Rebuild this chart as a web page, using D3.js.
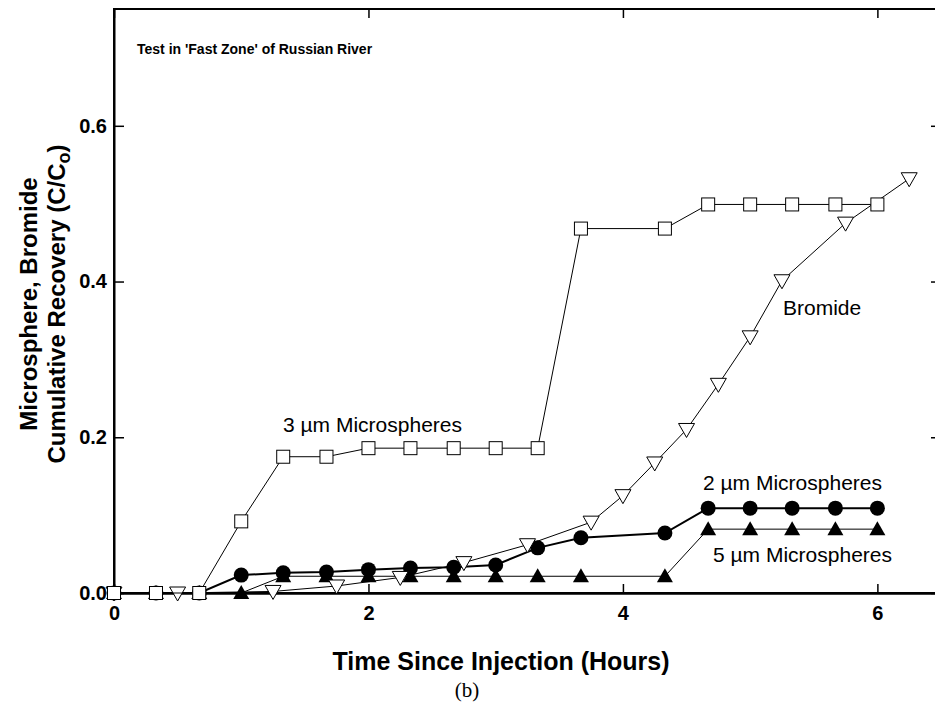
<!DOCTYPE html>
<html>
<head>
<meta charset="utf-8">
<script src="https://cdn.jsdelivr.net/npm/d3@7"></script>
<style>
  body { margin: 0; background: white; }
  svg { display: block; }
</style>
</head>
<body>
<div id="viz-container"></div>
<script>
let vizWidth = 935;
let vizHeight = 713;

// data (hours, C/Co)
let timeSquares = [0, 0.33, 0.67, 1, 1.33, 1.67, 2, 2.33, 2.67, 3, 3.33, 3.67, 4.33, 4.67, 5, 5.33, 5.67, 6];
let micro3 = [0, 0, 0, 0.092, 0.175, 0.175, 0.186, 0.186, 0.186, 0.186, 0.186, 0.468, 0.468, 0.499, 0.499, 0.499, 0.499, 0.499];
let micro2 = [0, 0, 0, 0.023, 0.026, 0.027, 0.030, 0.032, 0.033, 0.036, 0.058, 0.071, 0.077, 0.109, 0.109, 0.109, 0.109, 0.109];
let micro5 = [0, 0, 0, 0, 0.0215, 0.0215, 0.0215, 0.0215, 0.0215, 0.0215, 0.0215, 0.0215, 0.0215, 0.082, 0.082, 0.082, 0.082, 0.082];

let timeBromide = [0, 0.5, 1.25, 1.75, 2.25, 2.75, 3.25, 3.75, 4, 4.25, 4.5, 4.75, 5, 5.25, 5.75, 6.25];
let bromide = [0, 0, 0.002, 0.009, 0.020, 0.039, 0.062, 0.091, 0.125, 0.167, 0.21, 0.268, 0.329, 0.401, 0.475, 0.532];

let xTicks = [0, 2, 4, 6];
let yTicks = [0, 0.2, 0.4, 0.6];

let margin = {left: 114, top: 9, right: -6, bottom: 120};

let viz = d3.select("#viz-container")
    .append("svg")
        .attr("width", vizWidth)
        .attr("height", vizHeight)
        .style("font-family", "'Liberation Sans', Arial, sans-serif");

let x = d3.scaleLinear().domain([0, 6.5]).range([margin.left, vizWidth - margin.right]);
let y = d3.scaleLinear().domain([0, 0.75]).range([vizHeight - margin.bottom, margin.top]);

// frame
viz.append("rect")
    .attr("x", x(0)).attr("y", y(0.75))
    .attr("width", x(6.5) - x(0)).attr("height", y(0) - y(0.75))
    .attr("fill", "none").attr("stroke", "black").attr("stroke-width", 2);

// axes, ticks pointing inward
let xAxis = viz.append("g")
    .attr("transform", "translate(0," + y(0) + ")")
    .call(d3.axisBottom(x).tickValues(xTicks).tickFormat(d3.format("d")).tickSizeInner(-9).tickSizeOuter(0));
xAxis.select(".domain").attr("stroke-width", 2.5);
xAxis.selectAll("text").attr("dy", "1.2em").style("font-size", "20px").style("font-weight", "bold")
    .style("font-family", "'Liberation Sans', Arial, sans-serif");

let xTop = viz.append("g")
    .attr("transform", "translate(0," + y(0.75) + ")")
    .call(d3.axisTop(x).tickValues(xTicks).tickSizeInner(-9).tickSizeOuter(0).tickFormat(""));

let yAxis = viz.append("g")
    .attr("transform", "translate(" + x(0) + ",0)")
    .call(d3.axisLeft(y).tickValues(yTicks).tickFormat(d3.format(".1f")).tickSizeInner(-10).tickSizeOuter(0));
yAxis.select(".domain").attr("stroke-width", 2);
yAxis.selectAll("text").attr("x", -7).style("font-size", "20px").style("font-weight", "bold")
    .style("font-family", "'Liberation Sans', Arial, sans-serif");

let yRight = viz.append("g")
    .attr("transform", "translate(" + x(6.5) + ",0)")
    .call(d3.axisRight(y).tickValues(yTicks).tickSizeInner(-10).tickSizeOuter(0).tickFormat(""));

viz.selectAll(".domain").attr("stroke", "black");
viz.selectAll(".tick line").attr("stroke", "black").attr("stroke-width", 1.5);

// series
let line = d3.line().x(d => x(d[0])).y(d => y(d[1]));
let zip = (xs, ys) => xs.map((t, i) => [t, ys[i]]);

let d5 = zip(timeSquares, micro5);
let d2 = zip(timeSquares, micro2);
let dBr = zip(timeBromide, bromide);
let d3s = zip(timeSquares, micro3);

function series(data, width) {
    viz.append("path").datum(data)
        .attr("d", line)
        .attr("fill", "none")
        .attr("stroke", "black")
        .attr("stroke-width", width);
}

// 5 um: filled triangles up
series(d5, 1);
viz.selectAll(".m5").data(d5).enter().append("path")
    .attr("class", "m5")
    .attr("transform", d => "translate(" + x(d[0]) + "," + y(d[1]) + ")")
    .attr("d", "M0,-8L8,6L-8,6Z")
    .attr("fill", "black");

// 2 um: filled circles
series(d2, 2);
viz.selectAll(".m2").data(d2).enter().append("circle")
    .attr("class", "m2")
    .attr("cx", d => x(d[0])).attr("cy", d => y(d[1]))
    .attr("r", 7.5)
    .attr("fill", "black");

// bromide: open triangles down
series(dBr, 1);
viz.selectAll(".mb").data(dBr).enter().append("path")
    .attr("class", "mb")
    .attr("transform", d => "translate(" + x(d[0]) + "," + y(d[1]) + ")")
    .attr("d", "M-8,-6L8,-6L0,8Z")
    .attr("fill", "white").attr("stroke", "black").attr("stroke-width", 1);

// 3 um: open squares
series(d3s, 1);
viz.selectAll(".m3").data(d3s).enter().append("rect")
    .attr("class", "m3")
    .attr("x", d => x(d[0]) - 6.5).attr("y", d => y(d[1]) - 6.5)
    .attr("width", 13).attr("height", 13)
    .attr("fill", "white").attr("stroke", "black").attr("stroke-width", 1);

// annotations
viz.append("text").attr("x", 137).attr("y", 54)
    .style("font-size", "14px").style("font-weight", "bold")
    .text("Test in 'Fast Zone' of Russian River");

let notes = [
    {t: "3 \u00b5m Microspheres", x: 283, y: 432},
    {t: "Bromide", x: 783, y: 315},
    {t: "2 \u00b5m Microspheres", x: 703, y: 490},
    {t: "5 \u00b5m Microspheres", x: 713, y: 562}
];
viz.selectAll(".note").data(notes).enter().append("text")
    .attr("class", "note")
    .attr("x", d => d.x).attr("y", d => d.y)
    .style("font-size", "21px")
    .text(d => d.t);

// axis titles
viz.append("text")
    .attr("x", 501).attr("y", 670)
    .attr("text-anchor", "middle")
    .style("font-size", "25px").style("font-weight", "bold")
    .text("Time Since Injection (Hours)");

let yTitle = viz.append("text")
    .attr("transform", "translate(0,304) rotate(-90)")
    .attr("text-anchor", "middle")
    .style("font-size", "24px").style("font-weight", "bold");
yTitle.append("tspan").attr("x", 0).attr("y", 37).text("Microsphere, Bromide");
yTitle.append("tspan").attr("x", 0).attr("y", 65).text("Cumulative Recovery (C/C");
yTitle.append("tspan").attr("dy", 5).style("font-size", "18px").text("o");
yTitle.append("tspan").attr("dy", -5).text(")");

viz.append("text")
    .attr("x", 467).attr("y", 697)
    .attr("text-anchor", "middle")
    .style("font-family", "'Liberation Serif', 'Times New Roman', serif")
    .style("font-size", "21px")
    .text("(b)");
</script>
</body>
</html>
